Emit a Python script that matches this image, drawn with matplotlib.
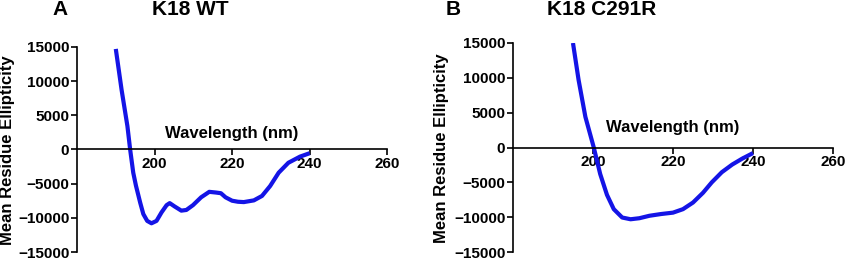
import matplotlib
matplotlib.use("Agg")
import matplotlib.pyplot as plt

plt.rcParams['font.family'] = ['Liberation Sans', 'DejaVu Sans']
plt.rcParams['font.weight'] = 'bold'

# Panel A: K18 WT
wl_a = [190, 191.5, 193, 193.7, 194.5, 195.2, 196.3, 197.1, 198.1, 199.2, 200.5, 201.8,
        203.1, 203.9, 205.2, 206.9, 208.2, 209.9, 212, 214.1, 215.8, 217.1, 218.3, 220,
        221.5, 223, 225.6, 227.7, 229.8, 232, 234.5, 237.5, 240]
mre_a = [14700, 8700, 3400, 0, -3400, -5300, -7800, -9450, -10450, -10800, -10450, -9200,
         -8150, -7850, -8350, -8950, -8850, -8150, -7000, -6200, -6300, -6400, -7000, -7500,
         -7650, -7700, -7450, -6800, -5350, -3400, -1950, -1050, -550]

# Panel B: K18 C291R
wl_b = [195, 196.4, 198.1, 200.2, 201.8, 203.5, 205.2, 207.3, 209.4, 211.6, 214.1, 217,
        220, 222.5, 225, 227.5, 229.7, 232.2, 234.8, 237.3, 240]
mre_b = [15000, 9700, 4400, 0, -3800, -6800, -8850, -10050, -10300, -10150, -9800, -9550,
         -9350, -8850, -7900, -6500, -5000, -3550, -2450, -1600, -800]

x_ticks = [200, 220, 240, 260]
y_ticks = [-15000, -10000, -5000, 0, 5000, 10000, 15000]
panel_letters = ['A', 'B']
titles = ['K18 WT', 'K18 C291R']
xlabel = 'Wavelength (nm)'
ylabel = 'Mean Residue Ellipticity'

fig = plt.figure(figsize=(8.5, 2.59), dpi=100)
axA = fig.add_axes([0.0906, 0.027, 0.365, 0.792])
axB = fig.add_axes([0.6035, 0.027, 0.3765, 0.807])

color = '#1414e6'
for ax, wl, mre, lab_y in [(axA, wl_a, mre_a, 0.58), (axB, wl_b, mre_b, 0.598)]:
    ax.plot(wl, mre, color=color, lw=3.0, solid_capstyle='butt', solid_joinstyle='round')
    ax.set_xlim(180, 260)
    ax.set_ylim(-15000, 15000)
    ax.set_xticks(x_ticks)
    ax.set_yticks(y_ticks)
    ax.spines['top'].set_visible(False)
    ax.spines['right'].set_visible(False)
    ax.spines['bottom'].set_position(('data', 0))
    for s in ('left', 'bottom'):
        ax.spines[s].set_linewidth(1.2)
    ax.tick_params(axis='both', direction='out', length=4, width=1.2, labelsize=11, pad=1.5)
    for lbl in ax.get_xticklabels() + ax.get_yticklabels():
        lbl.set_fontweight('bold')
    ax.set_xlabel(xlabel, fontsize=12, fontweight='bold')
    ax.xaxis.set_label_coords(0.5, lab_y)
    ax.xaxis.label.set_va('center')
    ax.set_ylabel(ylabel, fontsize=12, fontweight='bold')
    ax.yaxis.set_label_coords(-0.223, 0.495)
    ax.yaxis.label.set_va('center')
    ax.patch.set_alpha(0)

fig.text(0.0706, 0.965, panel_letters[0], fontsize=15, fontweight='bold', ha='center', va='center')
fig.text(0.2235, 0.965, titles[0], fontsize=15, fontweight='bold', ha='center', va='center')
fig.text(0.533, 0.965, panel_letters[1], fontsize=15, fontweight='bold', ha='center', va='center')
fig.text(0.708, 0.965, titles[1], fontsize=15, fontweight='bold', ha='center', va='center')

fig.savefig('out.png', dpi=100)
